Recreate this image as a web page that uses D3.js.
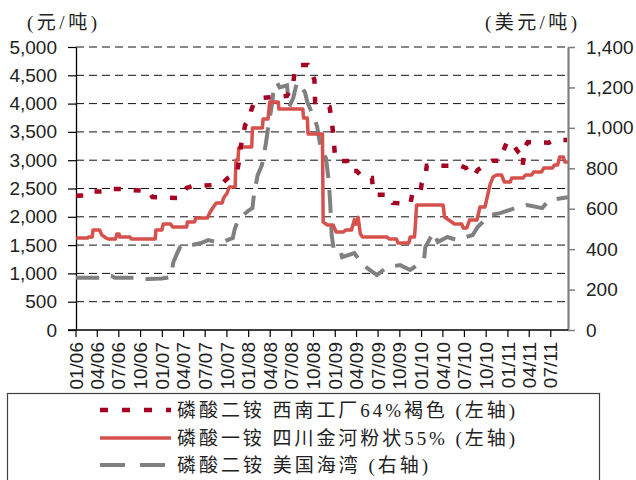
<!DOCTYPE html>
<html><head><meta charset="utf-8">
<script src="https://cdn.jsdelivr.net/npm/d3@7/dist/d3.min.js"></script>
<style>
html,body{margin:0;padding:0;background:#fff;}
svg{display:block;}
</style></head>
<body>
<svg id="chart" width="636" height="480"></svg>
<script>
// ---- data ----
const seriesNames = ["磷酸二铵 西南工厂64%褐色 (左轴)", "磷酸一铵 四川金河粉状55% (左轴)", "磷酸二铵 美国海湾 (右轴)"];
const leftUnit = "(元/吨)";
const rightUnit = "(美元/吨)";
const leftTicks = [0,500,1000,1500,2000,2500,3000,3500,4000,4500,5000];
const rightTicks = [0,200,400,600,800,1000,1200,1400];
const xTickLabels = ["01/06","04/06","07/06","10/06","01/07","04/07","07/07","10/07","01/08","04/08","07/08","10/08","01/09","04/09","07/09","10/09","01/10","04/10","07/10","10/10","01/11","04/11","07/11"];

// 磷酸二铵 西南工厂64%褐色 (左轴, 元/吨)
const dapSwDates = ["2006-01-04","2006-02-25","2006-03-10","2006-05-15","2006-05-28","2006-08-01","2006-08-19","2006-11-07","2006-11-22","2007-01-25","2007-03-16","2007-04-04","2007-04-16","2007-05-13","2007-08-01","2007-08-10","2007-09-16","2007-10-07","2007-10-28","2007-11-13","2007-11-22","2007-12-01","2007-12-07","2007-12-19","2008-01-04","2008-01-13","2008-01-22","2008-02-28","2008-06-13","2008-07-07","2008-07-16","2008-07-28","2008-09-10","2008-09-22","2008-10-07","2008-10-10","2008-11-04","2008-12-10","2008-12-19","2008-12-25","2009-01-01","2009-01-13","2009-02-22","2009-03-04","2009-04-04","2009-05-01","2009-06-07","2009-06-13","2009-07-01","2009-08-19","2009-09-04","2009-11-16","2009-11-25","2009-12-28","2010-01-04","2010-01-19","2010-01-25","2010-06-16","2010-07-10","2010-07-22","2010-08-19","2010-08-28","2010-09-22","2010-10-28","2010-12-01","2010-12-13","2010-12-28","2011-01-10","2011-01-25","2011-02-01","2011-02-19","2011-02-28","2011-03-07","2011-03-13","2011-03-28","2011-06-25","2011-07-19","2011-09-10"];
const dapSwValues = [2370,2380,2444,2450,2490,2490,2474,2460,2350,2340,2330,2440,2510,2545,2560,2580,2600,2686,2740,2760,2950,3250,3357,3620,3700,3870,3975,4100,4135,4300,4560,4680,4680,4590,4420,4030,4030,3940,3700,3480,3130,2990,2985,2810,2810,2686,2686,2440,2390,2390,2245,2226,2403,2403,2597,2703,2903,2903,2862,2740,2760,2827,2898,2991,2991,3145,3304,3320,3215,3230,3127,3092,2916,3215,3320,3310,3357,3357];

// 磷酸一铵 四川金河粉状55% (左轴, 元/吨)
const mapScDates = ["2006-01-04","2006-02-22","2006-02-25","2006-03-13","2006-03-16","2006-04-13","2006-04-22","2006-05-10","2006-05-19","2006-06-19","2006-06-25","2006-07-04","2006-07-07","2006-08-19","2006-08-25","2006-12-04","2006-12-07","2007-01-01","2007-01-07","2007-02-07","2007-02-16","2007-04-16","2007-04-19","2007-05-19","2007-05-25","2007-07-13","2007-07-22","2007-08-04","2007-08-19","2007-09-13","2007-09-19","2007-10-04","2007-10-13","2007-11-07","2007-11-10","2007-11-19","2007-11-22","2007-12-10","2008-01-16","2008-01-19","2008-03-01","2008-03-04","2008-03-25","2008-04-01","2008-05-07","2008-05-10","2008-08-19","2008-08-22","2008-09-07","2008-09-10","2008-11-10","2008-11-13","2008-12-01","2008-12-25","2009-01-07","2009-02-07","2009-02-16","2009-03-13","2009-03-25","2009-04-01","2009-04-10","2009-04-19","2009-04-28","2009-08-10","2009-08-19","2009-09-19","2009-09-25","2009-11-10","2009-11-16","2009-12-04","2009-12-07","2009-12-13","2010-04-04","2010-04-10","2010-05-10","2010-05-22","2010-06-22","2010-06-28","2010-07-13","2010-07-25","2010-08-25","2010-09-07","2010-09-28","2010-10-19","2010-11-01","2010-11-16","2010-12-07","2010-12-19","2011-01-13","2011-01-19","2011-03-07","2011-03-19","2011-04-13","2011-04-22","2011-05-25","2011-06-04","2011-07-10","2011-07-19","2011-08-01","2011-08-10","2011-08-25","2011-09-01","2011-09-13"];
const mapScValues = [1626,1626,1645,1645,1767,1767,1680,1626,1608,1608,1696,1696,1643,1643,1608,1608,1767,1767,1873,1873,1820,1820,1908,1908,1979,1979,2067,2156,2244,2244,2332,2420,2527,2527,3004,3004,3216,3234,3234,3570,3570,3728,3728,4029,4029,3905,3905,3746,3746,3463,3463,1908,1855,1855,1732,1732,1767,1767,1950,1870,1990,1700,1643,1643,1608,1608,1537,1537,1643,1643,1802,2209,2209,1997,1908,1873,1873,1802,1802,1943,1943,2173,2173,2562,2703,2739,2739,2615,2615,2686,2686,2739,2739,2792,2792,2862,2862,2915,2915,3057,3057,2968,2968];

// 磷酸二铵 美国海湾 (右轴, 美元/吨)
const dapUsDates = ["2006-01-04","2006-04-16","2006-06-01","2006-06-16","2006-09-10","2006-11-01","2007-01-01","2007-02-07","2007-02-19","2007-03-07","2007-03-19","2007-03-25","2007-05-07","2007-06-16","2007-07-16","2007-09-04","2007-10-16","2007-10-28","2007-11-04","2007-11-19","2008-01-01","2008-01-19","2008-01-25","2008-02-10","2008-02-28","2008-03-16","2008-03-25","2008-04-10","2008-04-16","2008-05-01","2008-05-13","2008-06-13","2008-06-22","2008-07-10","2008-07-25","2008-08-28","2008-09-07","2008-10-10","2008-10-19","2008-11-04","2008-11-25","2008-12-07","2008-12-13","2008-12-19","2008-12-28","2009-01-25","2009-02-01","2009-03-25","2009-05-01","2009-06-28","2009-08-10","2009-10-04","2009-11-16","2010-01-13","2010-01-19","2010-02-22","2010-03-13","2010-04-22","2010-06-01","2010-08-07","2010-08-28","2010-10-19","2010-12-01","2011-02-16","2011-03-25","2011-05-28","2011-06-25","2011-09-13"];
const dapUsValues = [258,258,268,258,258,252,255,262,336,380,410,420,420,430,445,430,450,455,494,544,590,603,667,766,815,924,1000,1112,1171,1225,1200,1210,1102,1150,1225,1176,1127,1038,1003,890,850,731,620,470,395,395,360,380,321,272,311,321,297,346,410,484,435,460,445,470,509,568,578,608,618,603,642,657];

// ---- drawing ----
const svg = d3.select("#chart");
const parse = d3.timeParse("%Y-%m-%d");
const X0 = 75.5, X1 = 568, Y0 = 330, Y1 = 47;

const x = d3.scaleTime().domain([new Date(2006,0,1), new Date(2011,8,14)]).range([X0, X1]);
const yL = d3.scaleLinear().domain([0,5000]).range([Y0, Y1]);
const yR = d3.scaleLinear().domain([0,1400]).range([Y0, Y1]);

const tickFont = "'Liberation Sans', Arial, sans-serif";
const cjkFont = "'Liberation Serif', 'Noto Sans CJK SC', serif";

// gridlines
svg.append("g").selectAll("line").data(leftTicks.filter(d => d > 0)).join("line")
  .attr("x1", 76).attr("x2", X1).attr("y1", d => yL(d)).attr("y2", d => yL(d))
  .attr("stroke", "#111").attr("stroke-width", 1).attr("stroke-dasharray", "8,5");

// left axis
const gL = svg.append("g").attr("transform", "translate(76,0)")
  .call(d3.axisLeft(yL).tickValues(leftTicks).tickFormat(d3.format(",")).tickSize(8).tickSizeOuter(0));
gL.select(".domain").attr("stroke", "#000").attr("stroke-width", 1.3);
gL.selectAll(".tick line").attr("stroke", "#000").attr("stroke-width", 1.2);
gL.selectAll(".tick text").attr("font-family", tickFont).attr("font-size", 19).attr("fill", "#222").attr("x", -19);

// right axis
const gR = svg.append("g").attr("transform", `translate(${X1},0)`)
  .call(d3.axisRight(yR).tickValues(rightTicks).tickFormat(d3.format(",")).tickSize(7).tickSizeOuter(0));
gR.select(".domain").attr("stroke", "#7f7f7f").attr("stroke-width", 2.2);
gR.selectAll(".tick line").attr("stroke", "#7f7f7f").attr("stroke-width", 1.5);
gR.selectAll(".tick text").attr("font-family", tickFont).attr("font-size", 19).attr("fill", "#222").attr("x", 18);

// bottom axis
const xTickDates = xTickLabels.map(s => new Date(2000 + +s.slice(3), +s.slice(0,2) - 1, 1));
const gB = svg.append("g").attr("transform", `translate(0,${Y0})`)
  .call(d3.axisBottom(x).tickValues(xTickDates).tickFormat((d,i) => xTickLabels[i]).tickSize(7).tickSizeOuter(0));
gB.select(".domain").attr("stroke", "#000").attr("stroke-width", 1.3).attr("d", `M68,0H${X1}`);
gB.selectAll(".tick line").attr("stroke", "#000").attr("stroke-width", 1.2);
gB.selectAll(".tick text").attr("font-family", tickFont).attr("font-size", 19).attr("fill", "#222")
  .attr("text-anchor", "end").attr("transform", "rotate(-90)")
  .attr("x", -12).attr("y", 0).attr("dy", "0.35em");

// unit labels
svg.append("text").attr("x", 27).attr("y", 29).attr("font-family", cjkFont).attr("font-size", 19).attr("fill", "#222")
  .attr("textLength", 70).attr("lengthAdjust", "spacing").text(leftUnit);
svg.append("text").attr("x", 485).attr("y", 29).attr("font-family", cjkFont).attr("font-size", 19).attr("fill", "#222")
  .attr("textLength", 92).attr("lengthAdjust", "spacing").text(rightUnit);

// series
function pts(dates, vals){ return dates.map((d,i) => [parse(d), vals[i]]); }
const lineL = d3.line().x(d => x(d[0])).y(d => yL(d[1]));
const lineR = d3.line().x(d => x(d[0])).y(d => yR(d[1]));

const styles = [
  {color:"#A50021", width:4.5, dash:"7,13", legendDash:"8,14"},
  {color:"#D6504C", width:3.5, dash:null, legendDash:null},
  {color:"#808080", width:4, dash:"23,12", legendDash:"25,15"}
];

svg.append("path").datum(pts(dapUsDates, dapUsValues)).attr("d", lineR)
  .attr("fill","none").attr("stroke", styles[2].color).attr("stroke-width", styles[2].width).attr("stroke-dasharray", styles[2].dash);
svg.append("path").datum(pts(mapScDates, mapScValues)).attr("d", lineL)
  .attr("fill","none").attr("stroke", styles[1].color).attr("stroke-width", styles[1].width).attr("stroke-linejoin","round");
svg.append("path").datum(pts(dapSwDates, dapSwValues)).attr("d", lineL)
  .attr("fill","none").attr("stroke", styles[0].color).attr("stroke-width", styles[0].width).attr("stroke-dasharray", styles[0].dash);

// legend
svg.append("rect").attr("x", 7.5).attr("y", 393.5).attr("width", 592).attr("height", 100)
  .attr("fill","none").attr("stroke","#404040").attr("stroke-width",1.2);
const rowsY = [410, 438, 465];
const legendWidths = [338, 338, 251];
seriesNames.forEach((name, i) => {
  const s = styles[i];
  svg.append("line").attr("x1", 100).attr("x2", 171).attr("y1", rowsY[i]).attr("y2", rowsY[i])
    .attr("stroke", s.color).attr("stroke-width", s.width).attr("stroke-dasharray", s.legendDash);
  svg.append("text").attr("x", 177).attr("y", rowsY[i] + 6.5).attr("font-family", cjkFont)
    .attr("font-size", 19).attr("fill", "#222")
    .attr("textLength", legendWidths[i]).attr("lengthAdjust", "spacing").text(name);
});
</script>
</body></html>
